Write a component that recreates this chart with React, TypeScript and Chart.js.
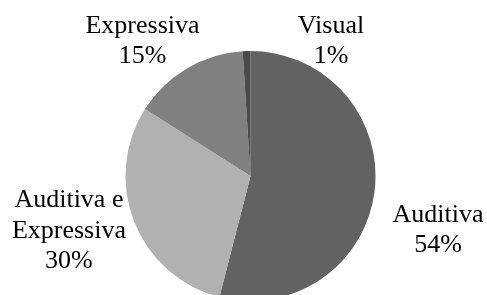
import React, { useEffect, useRef } from "react";
import { Chart, registerables } from "chart.js";

Chart.register(...registerables);

const categories = ["Auditiva", "Auditiva e Expressiva", "Expressiva", "Visual"];
const labelLines = [["Auditiva"], ["Auditiva e", "Expressiva"], ["Expressiva"], ["Visual"]];
const values = [54, 30, 15, 1];
const colors = ["#626262", "#b1b1b1", "#808080", "#4a4a4a"];
// label anchor offsets, in units of the pie radius, relative to the pie centre
const labelOffsets = [
  [1.5, 0.4325],
  [-1.4525, 0.4395],
  [-0.8638, -1.0795],
  [0.644, -1.0795],
];
const FONT = "26px Liberation Serif";

const labelPlugin = {
  id: "pieLabels",
  afterDraw(chart: any) {
    const ctx: CanvasRenderingContext2D = chart.ctx;
    const meta = chart.getDatasetMeta(0);
    const total = values.reduce((a, b) => a + b, 0);
    ctx.save();
    ctx.font = FONT;
    ctx.fillStyle = "#000000";
    ctx.textAlign = "center";
    ctx.textBaseline = "middle";
    const lineH = 30.5;
    meta.data.forEach((arc: any, i: number) => {
      const r = arc.outerRadius;
      const cx = arc.x + r * labelOffsets[i][0];
      const cy = arc.y + r * labelOffsets[i][1];
      const lines = [...labelLines[i], Math.round((values[i] / total) * 100) + "%"];
      const startY = cy - ((lines.length - 1) * lineH) / 2;
      lines.forEach((t, j) => ctx.fillText(t, cx, startY + j * lineH));
    });
    ctx.restore();
  },
};

export default function App() {
  const ref = useRef<HTMLCanvasElement>(null);
  useEffect(() => {
    const chart = new Chart(ref.current!, {
      type: "pie",
      data: {
        labels: categories,
        datasets: [
          {
            data: values,
            backgroundColor: colors,
            borderWidth: 0,
          },
        ],
      },
      options: {
        animation: false,
        responsive: false,
        maintainAspectRatio: false,
        layout: { padding: { left: 125.5, right: 111.5, top: 51, bottom: 49 } },
        plugins: {
          legend: { display: false },
          tooltip: { enabled: false },
        },
      },
      plugins: [labelPlugin],
    });
    return () => chart.destroy();
  }, []);
  return (
    <div style={{ position: "absolute", left: 0, top: 0, width: 487, height: 350, background: "#ffffff" }}>
      <canvas ref={ref} width={487} height={350} style={{ display: "block" }} />
    </div>
  );
}
